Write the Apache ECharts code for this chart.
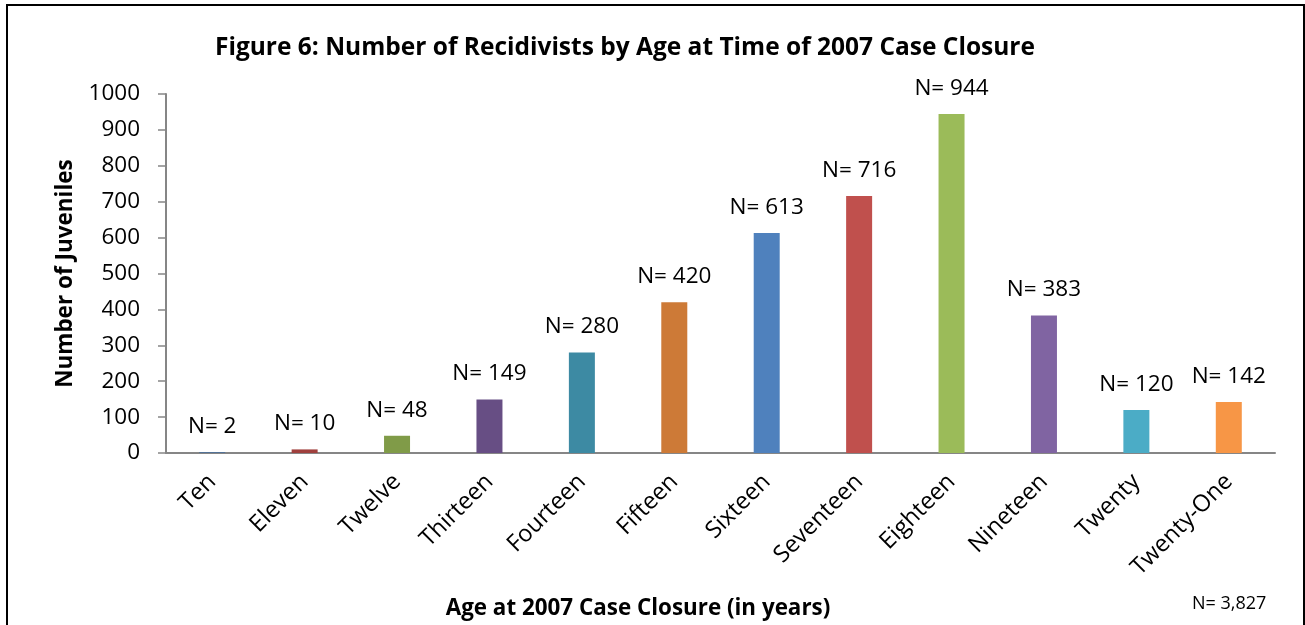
<!DOCTYPE html>
<html>
<head>
<meta charset="utf-8">
<script src="https://cdn.jsdelivr.net/npm/echarts@6/dist/echarts.min.js"></script>
<style>html,body{margin:0;padding:0;background:#fff;}#c{width:1305px;height:625px;}</style>
</head>
<body>
<div id="c"></div>
<script>
const categories = ["Ten","Eleven","Twelve","Thirteen","Fourteen","Fifteen","Sixteen","Seventeen","Eighteen","Nineteen","Twenty","Twenty-One"];
const values = [2,10,48,149,280,420,613,716,944,383,120,142];
const barColors = ["#3F6A9C","#A0403D","#809B48","#674E84","#3D8AA3","#CD7A37","#4F81BD","#C0504D","#9BBB59","#8064A2","#4BACC6","#F79646"];
const yTicks = {min:0, max:1000, interval:100};
const titleText = "Figure 6: Number of Recidivists by Age at Time of 2007 Case Closure";
const yName = "Number of Juveniles";
const xName = "Age at 2007 Case Closure (in years)";
const totalNote = "N= 3,827";

const FONT = "'Open Sans', sans-serif";
const chart = echarts.init(document.getElementById('c'));
chart.setOption({
  animation:false,
  backgroundColor:'#fff',
  textStyle:{fontFamily:FONT},
  title:{text:titleText, left:210, top:31, textStyle:{fontFamily:FONT,fontSize:24.5,fontWeight:'bold',color:'#000'}},
  grid:{left:166,right:30,top:94,bottom:172,containLabel:false},
  xAxis:{
    type:'category', data:categories,
    axisLine:{lineStyle:{color:'#868686',width:2}},
    axisTick:{show:false},
    axisLabel:{rotate:45, fontSize:23.5, color:'#000', margin:25, fontFamily:FONT, interval:0}
  },
  yAxis:{
    type:'value', min:yTicks.min, max:yTicks.max, interval:yTicks.interval,
    name:yName, nameLocation:'middle', nameGap:89,
    nameTextStyle:{fontSize:22.5,fontWeight:'bold',color:'#000',fontFamily:FONT},
    axisLine:{show:true,lineStyle:{color:'#868686',width:2}},
    axisTick:{show:true,length:8,lineStyle:{color:'#868686',width:1.5}},
    axisLabel:{fontSize:22.5,color:'#000',margin:26,fontFamily:FONT,formatter:v=>String(v)},
    splitLine:{show:false}
  },
  series:[{
    type:'bar',
    data:values.map((v,i)=>({value:v,itemStyle:{color:barColors[i]}})),
    barWidth:26,
    label:{show:true,position:'top',distance:14,formatter:'N= {c}',fontSize:22.5,color:'#000',fontFamily:FONT}
  }],
  graphic:[
    {type:'rect',shape:{x:7,y:5,width:1297,height:700},style:{fill:'none',stroke:'#000',lineWidth:2},silent:true},
    {type:'text',x:638,y:609,style:{text:xName,font:"bold 22.4px "+FONT,fill:'#000',textAlign:'center',textVerticalAlign:'middle'}},
    {type:'text',x:1192,y:604,style:{text:totalNote,font:"18px "+FONT,fill:'#000',textAlign:'left',textVerticalAlign:'middle'}}
  ]
});
</script>
</body>
</html>
